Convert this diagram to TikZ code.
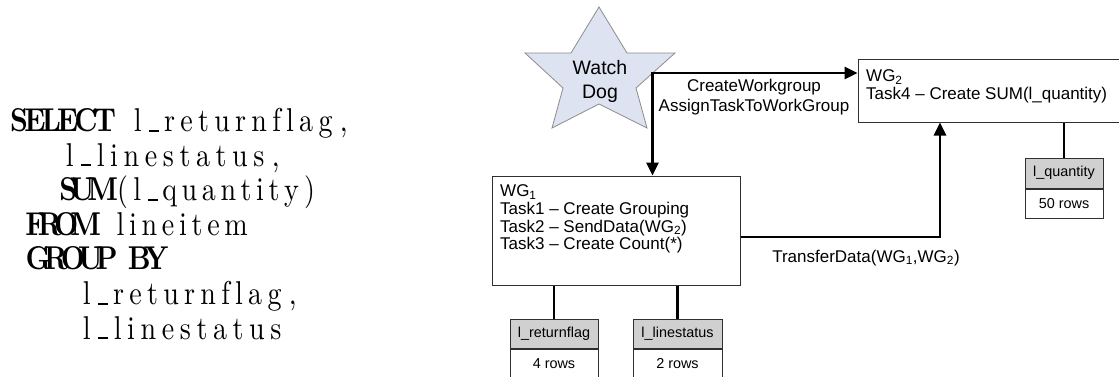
\documentclass[tikz,border=0pt]{standalone}
\usepackage{fontspec}
\newfontfamily\arial{Liberation Sans}
\newfontfamily\sqlfont[Extension=.otf, UprightFont=*-regular, BoldFont=*-bold, FakeStretch=0.85]{lmroman10}
\usetikzlibrary{arrows.meta,calc}
\definecolor{starfill}{HTML}{DDE3F0}
\definecolor{starline}{HTML}{8C8C8C}
\definecolor{hdrfill}{HTML}{D0D0D0}
\definecolor{boxline}{HTML}{303030}
\newcommand\us{\kern.06em\rule{.3em}{.06em}}
\ExplSyntaxOn
\dim_new:N \l_cw_dim
\dim_set:Nn \l_cw_dim {17pt}
\NewDocumentCommand\lw{m}{
  \hbox_to_wd:nn { \l_cw_dim * \tl_count:n {#1} }
    {
      \hskip 0pt plus 0.5fil minus 0.5fil
      \bool_set_true:N \l_tmpa_bool
      \tl_map_inline:nn {#1}
        {
          \bool_if:NTF \l_tmpa_bool { \bool_set_false:N \l_tmpa_bool } { \hss }
          ##1
        }
      \hskip 0pt plus 0.5fil minus 0.5fil
    }
}
\NewDocumentCommand\lsp{m}{ \hbox_to_wd:nn { \l_cw_dim * #1 } { } }
\NewDocumentCommand\kw{m}{ { \bfseries \lw{#1} } }
\ExplSyntaxOff
\tikzset{
  sqlline/.style={anchor=base west, inner sep=0pt, font=\sqlfont\fontsize{33}{34}\selectfont},
  box/.style={draw=boxline, line width=1pt, inner sep=0pt, fill=white},
  boxtext/.style={anchor=north west, inner sep=0pt, align=left, font=\arial\fontsize{17}{17.7}\selectfont},
  lbl/.style={inner sep=0pt, font=\arial\fontsize{17}{20}\selectfont},
  conn/.style={line width=2.8pt, black},
  tip/.style={-{Triangle[length=13pt,width=12pt]}},
  tips/.style={{Triangle[length=13pt,width=12pt]}-{Triangle[length=13pt,width=12pt]}},
  hdr/.style={draw=boxline, line width=1pt, fill=hdrfill, inner sep=0pt, font=\arial\fontsize{14.4}{17}\selectfont},
  cell/.style={draw=boxline, line width=1pt, fill=white, inner sep=0pt, font=\arial\fontsize{14.4}{17}\selectfont},
  starshape/.style={draw=starline, line width=0.8pt, fill=starfill, line join=miter},
  wdtext/.style={inner sep=0pt, align=center, font=\arial\fontsize{19.5}{24}\selectfont}
}
\begin{document}
\begin{tikzpicture}[x=1pt,y=1pt]
\useasboundingbox (0,0) rectangle (1119,376);
% SQL query
\node[sqlline] (s1) at (12,244.5) {\kw{SELECT}\lsp{1}\lw{l\us returnflag}\lw{,}};
\node[sqlline] (s2) at (12,209.9) {\lsp{3}\lw{l\us linestatus}\lw{,}};
\node[sqlline] (s3) at (12,175.3) {\lsp{3}\kw{SUM}\lw{(}\lw{l\us quantity}\lw{)}};
\node[sqlline] (s4) at (12,140.7) {\lsp{1}\kw{FROM}\lsp{1}\lw{lineitem}};
\node[sqlline] (s5) at (12,106.1) {\lsp{1}\kw{GROUP}\lsp{1}\kw{BY}};
\node[sqlline] (s6) at (12,71.5) {\lsp{4}\lw{l\us returnflag}\lw{,}};
\node[sqlline] (s7) at (12,36.9) {\lsp{4}\lw{l\us linestatus}};
% watch dog star
\draw[starshape] (599,369) -- (627,323) -- (675,323) -- (636,288) -- (647,248) -- (599,272)
  -- (552,248) -- (563,288) -- (525,323) -- (571,323) -- cycle;
\node[wdtext] (wd) at (600,295) {Watch\\Dog};
% boxes
\node[box, minimum width=248pt, minimum height=109pt] (wg1) at (616,145.5) {};
\node[box, minimum width=262pt, minimum height=63pt] (wg2) at (989,285.5) {};
\node[boxtext] (wg1t) at (500,191.3) {WG\textsubscript{1}\\Task1 \textendash{} Create Grouping\\Task2 \textendash{} SendData(WG\textsubscript{2})\\Task3 \textendash{} Create Count(*)};
\node[boxtext] (wg2t) at (866,306.3) {WG\textsubscript{2}\\Task4 \textendash{} Create SUM(l\_quantity)};
% tables
\node[hdr, minimum width=88pt, minimum height=29pt] (rfh) at (554,42.5) {l\_returnflag};
\node[cell, minimum width=88pt, minimum height=29.5pt, anchor=north] (rfb) at (rfh.south) {4 rows};
\node[hdr, minimum width=89pt, minimum height=29pt] (lsh) at (677.5,42.5) {l\_linestatus};
\node[cell, minimum width=89pt, minimum height=29.5pt, anchor=north] (lsb) at (lsh.south) {2 rows};
\node[hdr, minimum width=78pt, minimum height=30pt] (lqh) at (1064,203) {l\_quantity};
\node[cell, minimum width=78pt, minimum height=29pt, anchor=north] (lqb) at (lqh.south) {50 rows};
\draw[conn] (rfh.north) -- (rfh.north |- wg1.south);
\draw[conn] (lsh.north) -- (lsh.north |- wg1.south);
\draw[conn] (lqh.north) -- (lqh.north |- wg2.south);
% control connector
\coordinate (c1) at (652.5,303);
\draw[conn, tips] (wg2.west |- c1) -- (c1) -- (c1 |- wg1.north);
\node[lbl, align=center] (l1) at (754,278.5) {CreateWorkgroup\\AssignTaskToWorkGroup};
% data transfer connector
\coordinate (c2) at (940,139);
\draw[conn, tip] (wg1.east |- c2) -- (c2) -- (c2 |- wg2.south);
\node[lbl, anchor=base] (l2) at (866,114) {TransferData(WG\textsubscript{1},WG\textsubscript{2})};
\end{tikzpicture}
\end{document}
